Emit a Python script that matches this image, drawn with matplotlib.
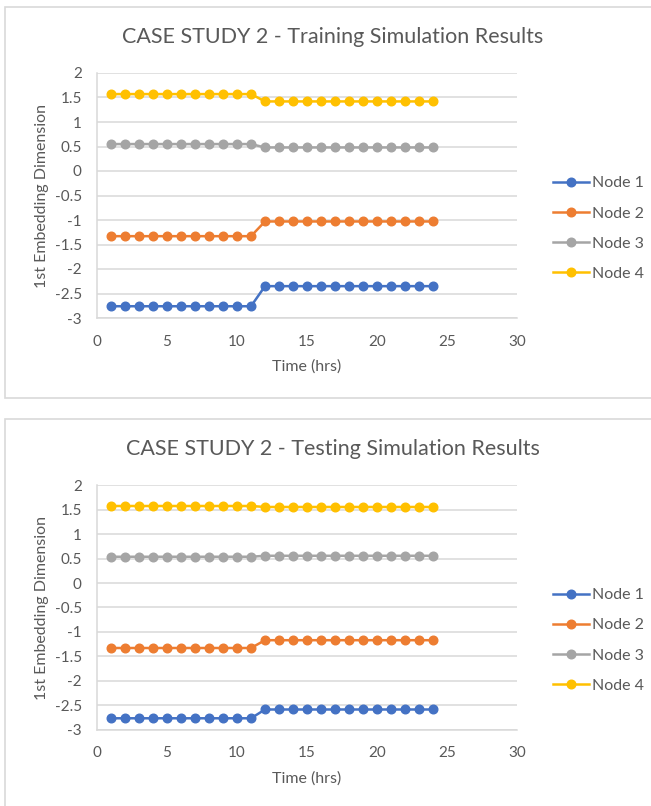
import matplotlib.pyplot as plt
from matplotlib.patches import Rectangle

plt.rcParams['font.family'] = ['Lato', 'DejaVu Sans']

# hours 1..24
hours = list(range(1, 25))

# training run, 1st embedding dimension per node
train_node1 = [-2.76] * 11 + [-2.35] * 13
train_node2 = [-1.33] * 11 + [-1.03] * 13
train_node3 = [0.55] * 11 + [0.48] * 13
train_node4 = [1.57] * 11 + [1.42] * 13

# testing run
test_node1 = [-2.77] * 11 + [-2.59] * 13
test_node2 = [-1.33] * 11 + [-1.17] * 13
test_node3 = [0.54] * 11 + [0.56] * 13
test_node4 = [1.58] * 11 + [1.56] * 13

node_names = ['Node 1', 'Node 2', 'Node 3', 'Node 4']
colors = ['#4472C4', '#ED7D31', '#A5A5A5', '#FFC000']
yticks = [2, 1.5, 1, 0.5, 0, -0.5, -1, -1.5, -2, -2.5, -3]
xticks = [0, 5, 10, 15, 20, 25, 30]

W, H = 651, 806
fig = plt.figure(figsize=(W / 100, H / 100), dpi=100)

# chart frames, kept behind the axes
for top, bottom in [(7, 398), (419, 812)]:
    fig.patches.append(Rectangle((5 / W, 1 - bottom / H), 1, (bottom - top) / H,
                                 transform=fig.transFigure, facecolor='white',
                                 edgecolor='#d9d9d9', linewidth=1.2, zorder=-5))


def draw_chart(rect, title, title_y, series):
    ax = fig.add_axes(rect)
    ax.patch.set_alpha(0)
    for vals, name, c in zip(series, node_names, colors):
        ax.plot(hours, vals, '-o', color=c, label=name, linewidth=1.8,
                markersize=6.2, zorder=3)
    ax.set_xlim(0, 30)
    ax.set_ylim(-3, 2)
    ax.set_xticks(xticks)
    ax.set_yticks(yticks)
    ax.set_yticklabels([('%g' % v) for v in yticks])
    ax.grid(axis='y', color='#d9d9d9', linewidth=1.1)
    ax.set_axisbelow(True)
    for s in ['top', 'right']:
        ax.spines[s].set_visible(False)
    for s in ['left', 'bottom']:
        ax.spines[s].set_color('#d9d9d9')
        ax.spines[s].set_linewidth(1.1)
    ax.tick_params(length=0, labelsize=11, colors='#595959')
    ax.tick_params(axis='y', pad=11)
    ax.tick_params(axis='x', pad=12)
    ax.set_xlabel('Time (hrs)', fontsize=11.5, color='#595959')
    ax.set_ylabel('1st Embedding Dimension', fontsize=11.5, color='#595959')
    ax.xaxis.set_label_coords(0.5, -0.2)
    ax.yaxis.set_label_coords(-0.131, 0.5)
    ax.xaxis.label.set_va('center')
    ax.yaxis.label.set_va('center')
    ax.legend(loc='center left', bbox_to_anchor=(1.06, 0.365), frameon=False,
              fontsize=11.5, labelcolor='#595959', handlelength=2.25,
              labelspacing=1.0, handletextpad=0.15, borderaxespad=0.3)
    fig.text(333 / W, 1 - title_y / H, title, ha='center', va='center',
             fontsize=15.5, color='#595959')
    return ax


draw_chart([97 / W, 1 - 318 / H, 420 / W, 245 / H],
           'CASE STUDY 2 - Training Simulation Results', 37,
           [train_node1, train_node2, train_node3, train_node4])
draw_chart([97 / W, 1 - 729.5 / H, 420 / W, 244 / H],
           'CASE STUDY 2 - Testing Simulation Results', 449,
           [test_node1, test_node2, test_node3, test_node4])

fig.savefig('out.png', dpi=100, facecolor='white')
